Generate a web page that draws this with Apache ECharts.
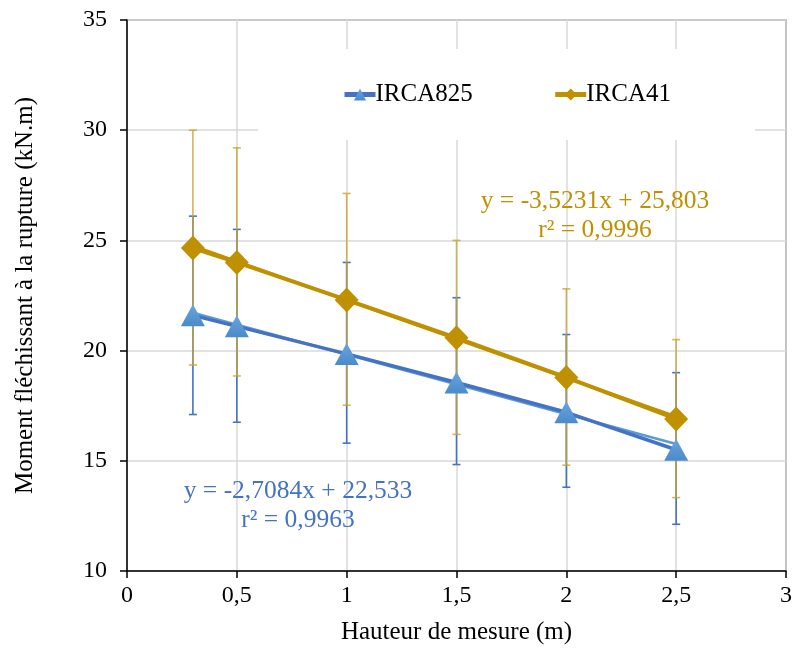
<!DOCTYPE html>
<html><head><meta charset="utf-8">
<script src="https://cdn.jsdelivr.net/npm/echarts@6/dist/echarts.min.js"></script>
<style>html,body{margin:0;padding:0;background:#fff}#c{width:795px;height:650px}</style>
</head><body><div id="c"></div>
<script>
// Data
const heights = [0.3, 0.5, 1, 1.5, 2, 2.5];
const irca825 = [21.6, 21.1, 19.85, 18.55, 17.2, 15.5];
const irca825Low = [17.1, 16.75, 15.8, 14.83, 13.8, 12.12];
const irca825High = [26.1, 25.5, 24.0, 22.4, 20.73, 19.0];
const irca41 = [24.65, 24.0, 22.3, 20.58, 18.78, 16.9];
const irca41Low = [19.35, 18.85, 17.52, 16.2, 14.8, 13.33];
const irca41High = [30.0, 29.2, 27.13, 25.0, 22.8, 20.5];
const trendX = [0.3, 2.5];
const trend825Y = [21.72, 15.76];
const trend41Y = [24.75, 17.0];
const eq825 = 'y = -2,7084x + 22,533\nr² = 0,9963';
const eq41 = 'y = -3,5231x + 25,803\nr² = 0,9996';
const xTicks = [0, 0.5, 1, 1.5, 2, 2.5, 3];
const yTicks = [10, 15, 20, 25, 30, 35];

const FONT = '"Liberation Serif", "Times New Roman", serif';
const BLUE_LINE = '#4472C4', BLUE_MARK = '#5B9BD5', GOLD = '#BF9000', GOLD_ERR = '#CCA22A';

const pairs = (xs, ys) => xs.map((x, i) => [x, ys[i]]);
const errData = (lo, hi) => heights.map((x, i) => [x, lo[i], hi[i]]);

function errRender(color, opacity) {
  return function (params, api) {
    const x = api.value(0), lo = api.value(1), hi = api.value(2);
    const p1 = api.coord([x, lo]), p2 = api.coord([x, hi]);
    const w = 4;
    const st = { stroke: color, lineWidth: 1.6, opacity: opacity };
    return { type: 'group', children: [
      { type: 'line', shape: { x1: p1[0], y1: p1[1], x2: p2[0], y2: p2[1] }, style: st },
      { type: 'line', shape: { x1: p1[0] - w, y1: p1[1], x2: p1[0] + w, y2: p1[1] }, style: st },
      { type: 'line', shape: { x1: p2[0] - w, y1: p2[1], x2: p2[0] + w, y2: p2[1] }, style: st }
    ]};
  };
}

const chart = echarts.init(document.getElementById('c'));
const comma = v => String(v).replace('.', ',');
chart.setOption({
  animation: false,
  backgroundColor: '#fff',
  grid: { left: 127, right: 5, top: 20, bottom: 75, show: true, borderColor: '#404040', borderWidth: 1.2 },
  xAxis: {
    type: 'value', min: xTicks[0], max: xTicks[xTicks.length - 1], interval: 0.5,
    name: 'Hauteur de mesure (m)', nameLocation: 'middle', nameGap: 49,
    nameTextStyle: { fontFamily: FONT, fontSize: 25, color: '#000' },
    axisLine: { lineStyle: { color: '#000', width: 1.5 } },
    axisTick: { show: true, length: 7, lineStyle: { color: '#000', width: 1.5 } },
    axisLabel: { fontFamily: FONT, fontSize: 24, color: '#000', margin: 13, formatter: comma },
    splitLine: { show: true, lineStyle: { color: '#d9d9d9', width: 1.5 } }
  },
  yAxis: {
    type: 'value', min: yTicks[0], max: yTicks[yTicks.length - 1], interval: 5,
    name: 'Moment fléchissant à la rupture (kN.m)', nameLocation: 'middle', nameGap: 89,
    nameTextStyle: { fontFamily: FONT, fontSize: 25, color: '#000' },
    axisLine: { show: true, lineStyle: { color: '#000', width: 1.5 } },
    axisTick: { show: true, length: 7, lineStyle: { color: '#000', width: 1.5 } },
    axisLabel: { fontFamily: FONT, fontSize: 24, color: '#000', margin: 20, formatter: comma },
    splitLine: { show: true, lineStyle: { color: '#d9d9d9', width: 1.5 } }
  },
  legend: {
    data: ['IRCA825', 'IRCA41'],
    left: 258, top: 49,
    padding: [33, 84],
    itemGap: 80, itemWidth: 31, itemHeight: 15,
    backgroundColor: '#fff',
    lineStyle: { width: 5 },
    textStyle: { fontFamily: FONT, fontSize: 25, color: '#000', padding: [0, 0, 0, -5] }
  },
  graphic: [
    { type: 'text', position: [298, 477], z: 10, style: { text: eq825, fill: BLUE_LINE, font: '25.5px ' + FONT, textAlign: 'center', lineHeight: 29 } },
    { type: 'text', position: [595, 187], z: 10, style: { text: eq41, fill: GOLD, font: '25.5px ' + FONT, textAlign: 'center', lineHeight: 29 } }
  ],
  series: [
    { type: 'custom', name: 'err825', renderItem: errRender(BLUE_LINE, 1), data: errData(irca825Low, irca825High), encode: { x: 0, y: [1, 2] }, z: 1, silent: true },
    { type: 'custom', name: 'err41', renderItem: errRender(GOLD_ERR, 0.8), data: errData(irca41Low, irca41High), encode: { x: 0, y: [1, 2] }, z: 1, silent: true },
    { type: 'line', name: 'trend825', data: pairs(trendX, trend825Y), symbol: 'none', lineStyle: { color: BLUE_MARK, width: 2.5 }, z: 2, silent: true },
    { type: 'line', name: 'trend41', data: pairs(trendX, trend41Y), symbol: 'none', lineStyle: { color: GOLD, width: 3 }, z: 2, silent: true },
    { type: 'line', name: 'IRCA825', data: pairs(heights, irca825), symbol: 'triangle', symbolSize: [24, 22],
      lineStyle: { color: BLUE_LINE, width: 3.5 },
      itemStyle: { color: new echarts.graphic.LinearGradient(0, 0, 0, 1, [{ offset: 0, color: '#6aa6dc' }, { offset: 1, color: '#4a8acb' }]), borderWidth: 0 },
      z: 3 },
    { type: 'line', name: 'IRCA41', data: pairs(heights, irca41), symbol: 'diamond', symbolSize: [24, 25],
      lineStyle: { color: GOLD, width: 4 }, itemStyle: { color: GOLD, borderWidth: 0 }, z: 3 }
  ]
});
</script></body></html>
